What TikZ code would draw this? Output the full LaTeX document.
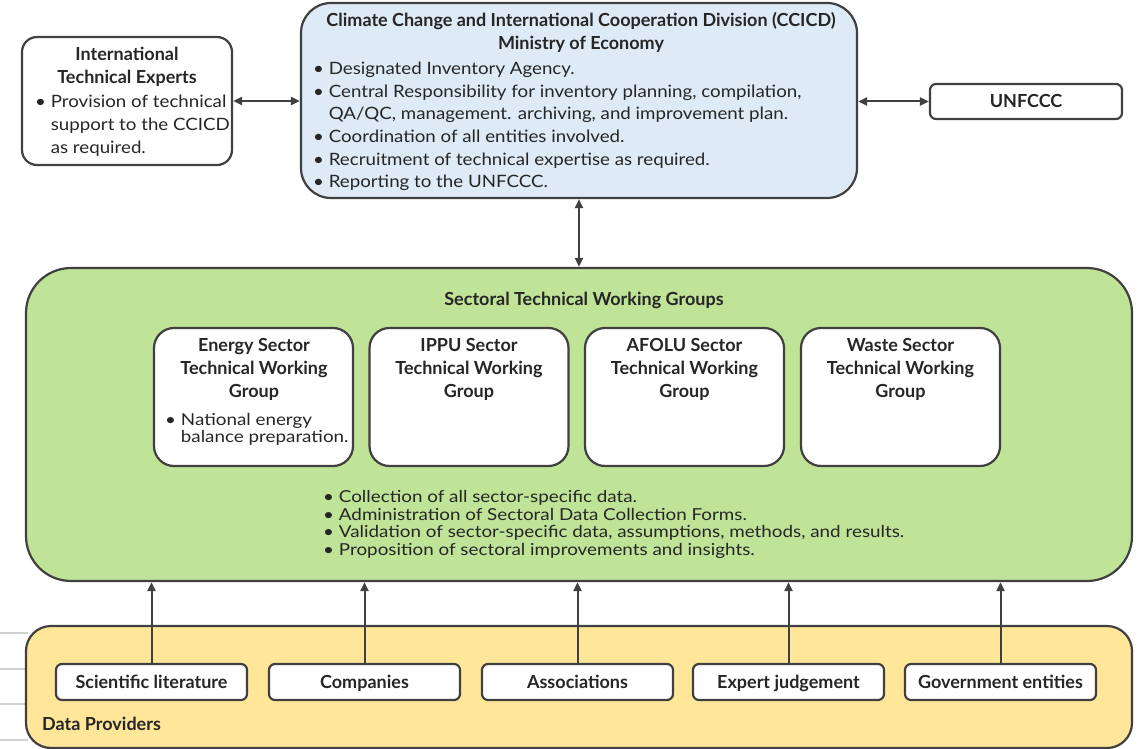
\documentclass[tikz,border=0pt]{standalone}
\usepackage{fontspec}
\setmainfont{Lato}
\newfontfamily\bodyf[FakeStretch=1.1]{Lato}
\newfontfamily\tightf[FakeStretch=1.14]{Lato}
\usetikzlibrary{arrows.meta}
\definecolor{bord}{HTML}{404040}
\definecolor{blueF}{HTML}{DEEAF6}
\definecolor{greenF}{HTML}{BFE397}
\definecolor{yellowF}{HTML}{FFE699}
\definecolor{txt}{HTML}{262626}
\newcommand\bi{\hphantom{• }}
\tikzset{
  box/.style={draw=bord, line width=2.2pt, rounded corners=#1, inner sep=0pt},
  box/.default=15pt,
  arr/.style={draw=bord, line width=2pt, -{Triangle[length=9pt,width=8pt]}},
  darr/.style={draw=bord, line width=2pt, {Triangle[length=9pt,width=8pt]}-{Triangle[length=9pt,width=8pt]}},
  ttl/.style={font=\fontsize{18}{23}\selectfont\bfseries, text=txt, align=center, inner sep=0pt},
  lbl/.style={font=\fontsize{18}{23}\selectfont\bfseries, text=txt, inner sep=0pt, text height=14pt, text depth=1pt},
  body/.style={font=\fontsize{17}{22.7}\selectfont\bodyf, text=txt, align=left, anchor=west, inner sep=0pt},
  tight/.style={font=\fontsize{16.5}{17.6}\selectfont\tightf, text=txt, align=left, anchor=west, inner sep=0pt},
}
\begin{document}
\begin{tikzpicture}[x=1pt,y=-1pt]
\useasboundingbox (0,0) rectangle (1140,749);
% faint lines at left
\foreach \yy in {633,669,704,740}
  \draw[black!18, line width=1.5pt] (0,\yy) -- (28,\yy);

% boxes
\node[box=15pt, fill=white, minimum width=210pt, minimum height=128pt] (ite) at (127,101) {};
\node[box=30pt, fill=blueF, minimum width=556pt, minimum height=195pt] (cc) at (579,100.5) {};
\node[box=6pt, fill=white, minimum width=192pt, minimum height=35pt] (un) at (1026,101.5) {};
\node[box=45pt, fill=greenF, minimum width=1106pt, minimum height=313pt] (st) at (579,424.5) {};
\node[box=25pt, fill=yellowF, minimum width=1106pt, minimum height=122pt] (dp) at (579,687) {};

% inner sector boxes
\node[box=20pt, fill=white, minimum width=199pt, minimum height=138pt] (en) at (253.5,397) {};
\node[box=20pt, fill=white, minimum width=199pt, minimum height=138pt] (ip) at (469,397) {};
\node[box=20pt, fill=white, minimum width=199pt, minimum height=138pt] (af) at (684.5,397) {};
\node[box=20pt, fill=white, minimum width=199pt, minimum height=138pt] (ws) at (900.5,397) {};

% provider boxes
\node[box=6pt, fill=white, minimum width=191pt, minimum height=36pt] (p1) at (151.5,682) {};
\node[box=6pt, fill=white, minimum width=191pt, minimum height=36pt] (p2) at (364.5,682) {};
\node[box=6pt, fill=white, minimum width=191pt, minimum height=36pt] (p3) at (577.5,682) {};
\node[box=6pt, fill=white, minimum width=191pt, minimum height=36pt] (p4) at (788.5,682) {};
\node[box=6pt, fill=white, minimum width=191pt, minimum height=36pt] (p5) at (1000.5,682) {};

% texts
\node[ttl] (iteT) at (127,67) {International\\Technical Experts};
\node[body] (iteB) at (35,125.5) {• Provision of technical\\\bi support to the CCICD\\\bi as required.};

\node[ttl] (ccT) at (581,32) {Climate Change and International Cooperation Division (CCICD)\\Ministry of Economy};
\node[body] (ccB) at (313,126.5) {• Designated Inventory Agency.\\
• Central Responsibility for inventory planning, compilation,\\
\bi QA/QC, management. archiving, and improvement plan.\\
• Coordination of all entities involved.\\
• Recruitment of technical expertise as required.\\
• Reporting to the UNFCCC.};

\node[lbl] (unT) at (un) {UNFCCC};

\node[lbl] (stT) at (584,299) {Sectoral Technical Working Groups};
\node[ttl] (enT) at (254,369) {Energy Sector\\Technical Working\\Group};
\node[tight] (enB) at (165,429.5) {• National energy\\\bi balance preparation.};
\node[ttl] (ipT) at (469,369) {IPPU Sector\\Technical Working\\Group};
\node[ttl] (afT) at (684.5,369) {AFOLU Sector\\Technical Working\\Group};
\node[ttl] (wsT) at (900.5,369) {Waste Sector\\Technical Working\\Group};
\node[tight] (stB) at (323,524.5) {• Collection of all sector-specific data.\\
• Administration of Sectoral Data Collection Forms.\\
• Validation of sector-specific data, assumptions, methods, and results.\\
• Proposition of sectoral improvements and insights.};

\node[lbl] (p1T) at (p1) {Scientific literature};
\node[lbl] (p2T) at (p2) {Companies};
\node[lbl] (p3T) at (p3) {Associations};
\node[lbl] (p4T) at (p4) {Expert judgement};
\node[lbl] (p5T) at (p5) {Government entities};
\node[lbl, anchor=west] (dpT) at (42,724) {Data Providers};

% connectors
\draw[darr] (ite.east) -- (cc.west |- ite.east);
\draw[darr] (cc.east |- un.west) -- (un.west);
\draw[darr] (cc.south) -- (cc.south |- st.north);
\foreach \p in {p1,p2,p3,p4,p5}
  \draw[arr] (\p.north) -- (\p.north |- st.south);
\end{tikzpicture}
\end{document}
